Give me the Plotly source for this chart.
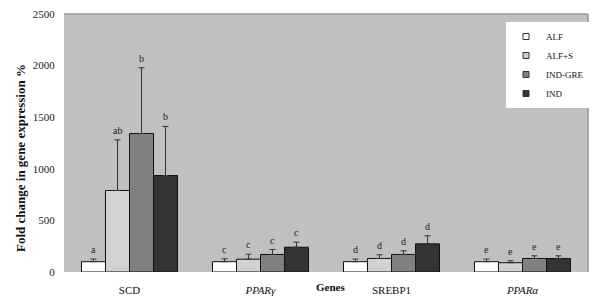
import plotly.graph_objects as go

genes = ["SCD", "PPARg", "SREBP1", "PPARa"]
gene_labels = ["SCD", "<i>PPARγ</i>", "SREBP1", "<i>PPARα</i>"]
series = ["ALF", "ALF+S", "IND-GRE", "IND"]
colors = ["#ffffff", "#d2d2d2", "#808080", "#333333"]

alf = [100, 100, 100, 100]
alf_s = [790, 124, 131, 90]
ind_gre = [1342, 170, 170, 131]
ind = [935, 240, 273, 131]
values = [alf, alf_s, ind_gre, ind]

alf_err = [25, 28, 25, 25]
alf_s_err = [490, 48, 36, 19]
ind_gre_err = [637, 48, 35, 26]
ind_err = [475, 49, 78, 26]
errors = [alf_err, alf_s_err, ind_gre_err, ind_err]

letters_alf = ["a", "c", "d", "e"]
letters_alf_s = ["ab", "c", "d", "e"]
letters_ind_gre = ["b", "c", "d", "e"]
letters_ind = ["b", "c", "d", "e"]
letters = [letters_alf, letters_alf_s, letters_ind_gre, letters_ind]

# page has an 8px body margin; size the figure to fit the 600x306 window
PAGE_W, PAGE_H, OFF = 600, 306, 8
W, H = PAGE_W - 2 * OFF, PAGE_H - 2 * OFF
# desired plot area in page pixels
PL, PR, PT, PB = 64, 588, 14, 272
ML, MR = PL - OFF, W - (PR - OFF)
MT, MB = PT - OFF, H - (PB - OFF)
plot_w = PR - PL
plot_h = PB - PT
bargap = 0.267
cat_w = plot_w / len(genes)
bar_w = cat_w * (1 - bargap) / len(series)


def px_x(page_x):
    return (page_x - PL) / plot_w


def px_y(page_y):
    return (PB - page_y) / plot_h


serif = "Liberation Serif"

fig = go.Figure()
for i, s in enumerate(series):
    fig.add_trace(go.Bar(
        name=s, x=genes, y=values[i], showlegend=False,
        marker=dict(color=colors[i], line=dict(color="#111111", width=1)),
        error_y=dict(type="data", symmetric=False, array=errors[i],
                     arrayminus=[0] * len(genes), color="#333333",
                     thickness=1, width=3),
    ))
# legend entries with small square swatches
for i, s in enumerate(series):
    fig.add_trace(go.Scatter(
        name=s, x=[None], y=[None], mode="markers",
        marker=dict(symbol="square", size=6, color=colors[i],
                    line=dict(color="#333333", width=1)),
    ))

annotations = []
for i in range(len(series)):
    shift = (i - (len(series) - 1) / 2) * bar_w
    for j, g in enumerate(genes):
        annotations.append(dict(
            x=g, y=values[i][j] + errors[i][j], xref="x", yref="y",
            text=letters[i][j], showarrow=False, xshift=shift,
            yanchor="bottom", yshift=2,
            font=dict(family=serif, size=10, color="#222222"),
        ))

annotations.append(dict(
    x=px_x(20), y=px_y(158),
    xref="paper", yref="paper", xanchor="center", yanchor="middle",
    text="<b>Fold change in gene expression %</b>",
    textangle=-90, showarrow=False,
    font=dict(family=serif, size=13, color="#111111"),
))
annotations.append(dict(
    x=px_x(330), y=px_y(287),
    xref="paper", yref="paper", xanchor="center", yanchor="middle",
    text="<b>Genes</b>", showarrow=False,
    font=dict(family=serif, size=11, color="#111111"),
))

fig.update_layout(
    width=W, height=H,
    margin=dict(l=ML, r=MR, t=MT, b=MB, autoexpand=False),
    paper_bgcolor="white", plot_bgcolor="#c0c0c0",
    barmode="group", bargap=bargap, bargroupgap=0,
    showlegend=True,
    legend=dict(x=px_x(506), y=px_y(22),
                xanchor="left", yanchor="top", bgcolor="white",
                font=dict(family=serif, size=9, color="#111111"),
                itemwidth=30, tracegroupgap=0),
    annotations=annotations,
    shapes=[
        dict(type="line", xref="paper", yref="paper", x0=0, x1=1, y0=1, y1=1,
             line=dict(color="#999999", width=1.5)),
        dict(type="line", xref="paper", yref="paper", x0=1, x1=1, y0=0, y1=1,
             line=dict(color="#999999", width=1.5)),
    ],
    font=dict(family=serif, color="#111111"),
)
fig.update_xaxes(tickvals=genes, ticktext=gene_labels, ticks="outside",
                 ticklen=8, tickcolor="rgba(0,0,0,0)", showgrid=False,
                 automargin=False, ticklabeloverflow="allow",
                 tickfont=dict(family=serif, size=11, color="#111111"))
fig.update_yaxes(range=[0, 2500], tickvals=[0, 500, 1000, 1500, 2000, 2500],
                 ticks="outside", ticklen=6, tickcolor="rgba(0,0,0,0)",
                 showgrid=False, zeroline=False, automargin=False,
                 ticklabeloverflow="allow",
                 tickfont=dict(family=serif, size=11, color="#222222"))

fig.write_html("out.html")
